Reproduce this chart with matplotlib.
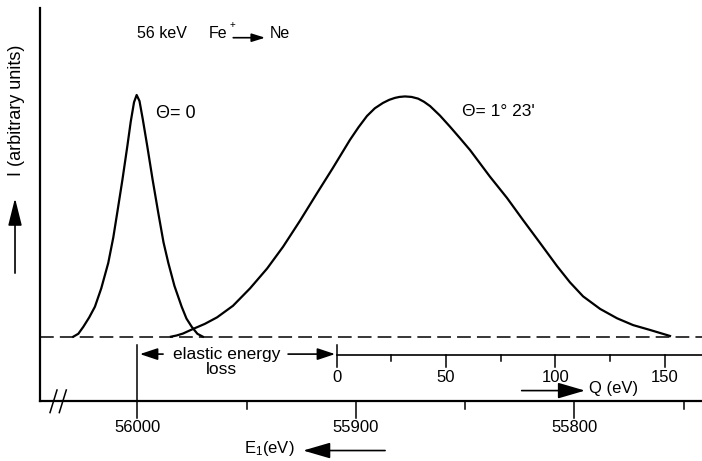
import numpy as np
import matplotlib.pyplot as plt

plt.rcParams['font.family'] = ['Liberation Sans', 'DejaVu Sans']
plt.rcParams['mathtext.fontset'] = 'custom'
plt.rcParams['mathtext.rm'] = 'Liberation Sans'
plt.rcParams['mathtext.it'] = 'Liberation Sans'

# energy loss relative to 56000 eV (eV) and intensity (arbitrary units)
theta0_dE = [-29.3, -27.0, -24.7, -22.0, -19.4, -16.5, -13.3, -11.0, -9.2, -6.8, -4.6, -3.0, -1.5, -0.3,
             1.0, 2.5, 4.6, 7.0, 9.6, 12.0, 14.2, 17.0, 20.3, 22.5, 24.9, 27.5, 30.0]
theta0_I = [0.0, 0.012, 0.041, 0.08, 0.124, 0.2, 0.305, 0.41, 0.512, 0.65, 0.786, 0.89, 0.97, 1.0,
            0.975, 0.9, 0.786, 0.65, 0.512, 0.39, 0.305, 0.21, 0.124, 0.075, 0.041, 0.012, 0.0]

theta1_dE = [15.4, 18.0, 20.9, 25.5, 30.9, 36.5, 43.8, 51.6, 59.4, 66.7, 74.4, 82.2, 89.5, 97.3, 101.2,
             105.1, 108.7, 112.4, 115.3, 117.9, 120.0, 122.5, 125.5, 128.5, 131.2, 134.0, 138.5, 143.1,
             147.7, 152.3, 161.4, 169.2, 176.5, 184.3, 192.1, 198.0, 204.0, 211.8, 219.6, 226.9, 234.6,
             243.8]
theta1_I = [0.0, 0.005, 0.013, 0.032, 0.053, 0.080, 0.128, 0.200, 0.282, 0.372, 0.479, 0.593, 0.698, 0.814,
            0.866, 0.913, 0.945, 0.967, 0.980, 0.988, 0.992, 0.994, 0.992, 0.985, 0.972, 0.954, 0.915,
            0.869, 0.821, 0.772, 0.662, 0.574, 0.483, 0.388, 0.292, 0.225, 0.167, 0.115, 0.076, 0.048,
            0.028, 0.003]

E1_major = [56000, 55900, 55800]
E1_minor = [55950, 55850, 55750]
Q_major = [0, 50, 100, 150]
Q_minor = [25, 75, 125]
Q_offset = 91.3  # elastic energy loss (eV)

fig = plt.figure(figsize=(7.02, 4.61), dpi=100)
ax = fig.add_axes([0, 0, 1, 1])
ax.set_xlim(-62.84, 258.44)
ax.set_ylim(-0.5143, 1.393)
ax.axis('off')

lw = 1.6
k = 'black'

# curves
ax.plot(theta0_dE, theta0_I, color=k, lw=lw, solid_joinstyle='round')
ax.plot(theta1_dE, theta1_I, color=k, lw=lw, solid_joinstyle='round')

# frame
x_axis = -44.5
y_Q = -0.076
y_E = -0.265
xr = 258.44
ax.plot([x_axis, x_axis], [y_E, 1.36], color=k, lw=lw)
ax.plot([x_axis, xr], [0, 0], color=k, lw=1.1, dashes=(9, 4))
ax.plot([x_axis, xr], [y_E, y_E], color=k, lw=lw)
ax.plot([Q_offset, xr], [y_Q, y_Q], color=k, lw=1.2)

# E1 axis ticks
for e in E1_major:
    d = 56000 - e
    ax.plot([d, d], [y_E, -0.335], color=k, lw=1.1)
    ax.text(d, -0.375, f"{e}", ha='center', va='center', fontsize=12)
for e in E1_minor:
    d = 56000 - e
    ax.plot([d, d], [y_E, -0.298], color=k, lw=1.1)
ax.plot([0, 0], [-0.034, y_E], color=k, lw=1.1)

# axis break
for x0 in [-39.95, -35.7]:
    ax.plot([x0, x0 + 3.2], [-0.314, -0.2205], color=k, lw=1.1)

# Q axis ticks
for q in Q_major:
    d = Q_offset + q
    top = -0.034 if q == 0 else y_Q
    ax.plot([d, d], [top, -0.125], color=k, lw=1.1)
    ax.text(d, -0.168, f"{q}", ha='center', va='center', fontsize=12)
for q in Q_minor:
    d = Q_offset + q
    ax.plot([d, d], [y_Q, -0.101], color=k, lw=1.1)


def arrow(x0, y0, x1, y1, hl=0.9, hw=0.3, ms=14):
    ax.annotate("", xy=(x1, y1), xytext=(x0, y0),
                arrowprops=dict(arrowstyle=f'-|>,head_length={hl},head_width={hw}',
                                color=k, lw=1.2, mutation_scale=ms, shrinkA=0, shrinkB=0))


# labels
ax.text(0, 1.255, "56 keV", ha='left', va='center', fontsize=11.5)
ax.text(32.9, 1.255, "Fe", ha='left', va='center', fontsize=11.5)
ax.text(42.0, 1.29, "+", ha='left', va='center', fontsize=7)
arrow(43.9, 1.237, 58.5, 1.237, hl=0.8, hw=0.25, ms=10)
ax.text(60.7, 1.255, "Ne", ha='left', va='center', fontsize=11.5)

ax.text(8.6, 0.925, "Θ= 0", ha='left', va='center', fontsize=13)
ax.text(148.6, 0.931, "Θ= 1° 23'", ha='left', va='center', fontsize=12.5)

ax.text(-55.06, 0.938, "I (arbitrary units)", rotation=90, ha='center', va='center', fontsize=13)
arrow(-55.97, 0.263, -55.97, 0.573, hl=1.2, hw=0.3, ms=14)

ax.text(16.3, -0.072, "elastic energy", ha='left', va='center', fontsize=12.5)
ax.text(38.4, -0.134, "loss", ha='center', va='center', fontsize=12.5)
arrow(11.8, -0.072, 1.2, -0.072, hl=0.9, hw=0.3, ms=12)
arrow(69.0, -0.072, 90.5, -0.072, hl=0.9, hw=0.3, ms=12)

arrow(175.9, -0.223, 204.9, -0.223, hl=1.2, hw=0.35, ms=14)
ax.text(206.7, -0.215, "Q (eV)", ha='left', va='center', fontsize=12)

arrow(113.4, -0.471, 75.9, -0.471, hl=1.2, hw=0.35, ms=14)
ax.text(72.1, -0.462, r"E$_{1}$(eV)", ha='right', va='center', fontsize=12)

fig.savefig("out.png", dpi=100)
